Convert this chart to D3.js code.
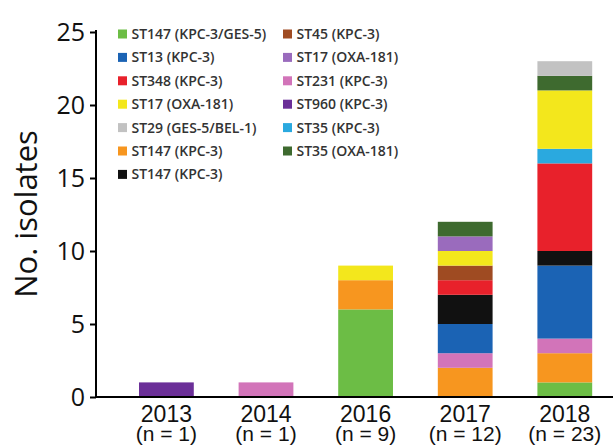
<!DOCTYPE html>
<html>
<head>
<meta charset="utf-8">
<script src="https://cdn.jsdelivr.net/npm/d3@7"></script>
<style>
  body { margin: 0; background: #fff; }
  svg { display: block; font-family: 'Open Sans', sans-serif; }
</style>
</head>
<body>
<svg id="chart" width="613" height="448"></svg>
<script>
// years on the x axis, with isolate counts shown underneath
const years = ['2013', '2014', '2016', '2017', '2018'];
const yearCounts = ['(n = 1)', '(n = 1)', '(n = 9)', '(n = 12)', '(n = 23)'];

// legend order (two columns, left then right)
const seriesIds = ['g', 'b', 'r', 'y', 'gr', 'o', 'k', 'br', 'lp', 'pk', 'dp', 'lb', 'dg'];
const seriesNames = [
	'ST147 (KPC-3/GES-5)', 'ST13 (KPC-3)', 'ST348 (KPC-3)', 'ST17 (OXA-181)',
	'ST29 (GES-5/BEL-1)', 'ST147 (KPC-3)', 'ST147 (KPC-3)',
	'ST45 (KPC-3)', 'ST17 (OXA-181)', 'ST231 (KPC-3)', 'ST960 (KPC-3)',
	'ST35 (KPC-3)', 'ST35 (OXA-181)'
];
const seriesColors = [
	'#6cbd45', '#1b63b4', '#e8212b', '#f3e71c', '#c2c2c2', '#f7961f', '#111111',
	'#9f4b22', '#9a6bbd', '#d274b9', '#6b2f98', '#2aa9df', '#3e6a2f'
];

// counts per year, one array per series (same order as seriesIds)
const seriesValues = [
	[0, 0, 6, 0, 1],  // ST147 (KPC-3/GES-5)
	[0, 0, 0, 2, 5],  // ST13 (KPC-3)
	[0, 0, 0, 1, 6],  // ST348 (KPC-3)
	[0, 0, 1, 1, 4],  // ST17 (OXA-181) yellow
	[0, 0, 0, 0, 1],  // ST29 (GES-5/BEL-1)
	[0, 0, 2, 2, 2],  // ST147 (KPC-3) orange
	[0, 0, 0, 2, 1],  // ST147 (KPC-3) black
	[0, 0, 0, 1, 0],  // ST45 (KPC-3)
	[0, 0, 0, 1, 0],  // ST17 (OXA-181) purple
	[0, 1, 0, 1, 1],  // ST231 (KPC-3)
	[1, 0, 0, 0, 0],  // ST960 (KPC-3)
	[0, 0, 0, 0, 1],  // ST35 (KPC-3)
	[0, 0, 0, 1, 1],  // ST35 (OXA-181)
];

// bottom-to-top stacking order seen in the bars
const stackOrder = ['g', 'o', 'pk', 'dp', 'b', 'k', 'r', 'br', 'lb', 'y', 'lp', 'dg', 'gr'];

const yTicks = [0, 5, 10, 15, 20, 25];

const svg = d3.select('#chart');
const width = Number(svg.attr('width'));

const rows = years.map((yr, i) => {
	const row = { year: yr };
	seriesIds.forEach((id, s) => { row[id] = seriesValues[s][i]; });
	return row;
});
const colorOf = d3.scaleOrdinal(seriesIds, seriesColors);

const x = d3.scaleBand()
	.domain(years)
	.range([116.6, 614.6])
	.paddingInner(0.45)
	.paddingOuter(0.225);
const y = d3.scaleLinear().domain([0, 25]).range([397, 32]);

const stacked = d3.stack().keys(stackOrder)(rows);

svg.append('g')
	.selectAll('g')
	.data(stacked)
	.join('g')
		.attr('fill', (d) => colorOf(d.key))
	.selectAll('rect')
	.data((d) => d.filter((p) => p[1] > p[0]))
	.join('rect')
		.attr('x', (d) => x(d.data.year))
		.attr('width', x.bandwidth())
		.attr('y', (d) => y(d[1]))
		.attr('height', (d) => y(d[0]) - y(d[1]));

// y axis
const yAxis = svg.append('g')
	.attr('transform', 'translate(96,0)')
	.call(d3.axisLeft(y).tickValues(yTicks).tickSize(6).tickPadding(5));
yAxis.select('.domain').attr('stroke-width', 2).attr('d', `M0,${y(25) - 2}V${y(0) + 1}`);
yAxis.selectAll('.tick line').attr('stroke-width', 2);
yAxis.selectAll('.tick text')
	.attr('font-size', 25)
	.attr('font-family', 'Open Sans, sans-serif')
	.attr('fill', '#111');

// x axis
const xAxis = svg.append('g')
	.attr('transform', `translate(0,${y(0)})`)
	.call(d3.axisBottom(x).tickSize(0).tickPadding(0));
xAxis.select('.domain').attr('stroke-width', 2).attr('d', `M95,0H${width}`);
xAxis.selectAll('.tick text').remove();
xAxis.selectAll('.tick').each(function (d, i) {
	const tick = d3.select(this);
	tick.append('text')
		.attr('fill', '#111')
		.attr('text-anchor', 'middle')
		.attr('font-size', 23)
		.attr('y', 25)
		.text(d);
	tick.append('text')
		.attr('fill', '#111')
		.attr('text-anchor', 'middle')
		.attr('font-size', 21)
		.attr('y', 44)
		.text(yearCounts[i]);
});

// y axis title
svg.append('text')
	.attr('transform', 'translate(37,214) rotate(-90)')
	.attr('text-anchor', 'middle')
	.attr('font-size', 31)
	.attr('fill', '#111')
	.text('No. isolates');

// legend
const legend = svg.append('g');
seriesIds.forEach((id, i) => {
	const col = i < 7 ? 0 : 1;
	const row = i < 7 ? i : i - 7;
	const gx = col === 0 ? 118 : 283;
	const gy = 34 + row * 23.4;
	legend.append('rect')
		.attr('x', gx).attr('y', gy - 4.5)
		.attr('width', 9).attr('height', 9)
		.attr('fill', colorOf(id));
	legend.append('text')
		.attr('x', gx + 13.5).attr('y', gy + 5)
		.attr('font-size', 14)
		.attr('font-weight', 600)
		.attr('fill', '#333')
		.text(seriesNames[i]);
});
</script>
</body>
</html>
